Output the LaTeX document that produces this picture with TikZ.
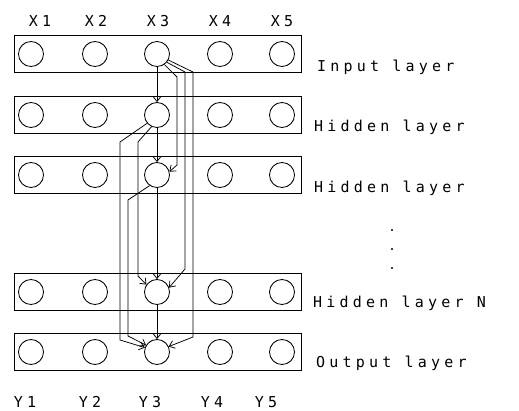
\documentclass[tikz,border=0pt]{standalone}
\usepackage{fontspec}
\newfontfamily\plotfont[LetterSpace=28]{DejaVu Sans Mono}
\usetikzlibrary{arrows.meta}
\begin{document}
\begin{tikzpicture}[x=1pt,y=-1pt,
  lyr/.style={draw,line width=0.85pt,minimum width=287pt,minimum height=37pt,inner sep=0pt},
  unit/.style={draw,circle,line width=0.85pt,minimum size=25pt,inner sep=0pt},
  lbl/.style={font=\plotfont\fontsize{15}{15}\selectfont,inner sep=0pt},
  wire/.style={line width=0.75pt,-{Straight Barb[length=5pt,width=8pt]}},
  dotmark/.style={circle,fill,inner sep=0pt,minimum size=2.2pt}]
\useasboundingbox (0,0) rectangle (519,411);
\foreach \r/\y in {1/54,2/115,3/175,4/292,5/352}{
  \node[lyr] (L\r) at (157.5,\y) {};
  \foreach \c/\x in {1/31,2/95,3/157,4/220,5/282}
    \node[unit] (c\r\c) at (\x,\y) {};
}
% top and bottom labels
\foreach \i/\x in {1/40,2/96,3/158,4/220,5/282}
  \node[lbl] (x\i) at (\x,21) {X\i};
\foreach \i/\x in {1/25,2/90,3/150,4/212,5/266}
  \node[lbl] (y\i) at (\x,402) {Y\i};
% layer labels
\node[lbl,anchor=west] (n1) at (317,67) {Input layer};
\node[lbl,anchor=west] (n2) at (314,127) {Hidden layer};
\node[lbl,anchor=west] (n3) at (314,188) {Hidden layer};
\node[lbl,anchor=west] (n4) at (313,303) {Hidden layer N};
\node[lbl,anchor=west] (n5) at (316,363) {Output layer};
\node[dotmark] (d1) at (392,230) {};
\node[dotmark] (d2) at (392,249) {};
\node[dotmark] (d3) at (392,268) {};
% direct connections
\draw[wire] (c13) -- (c23);
\draw[wire] (c23) -- (c33);
\draw[wire] (c33) -- (c43);
\draw[wire] (c43) -- (c53);
% skip connections from input X3
\draw[wire] (c13.-55) -- (177,77) -- (177,165) -- (c33.15);
\draw[wire] (c13.-40) -- (185,72) -- (185,269) -- (c43.20);
\draw[wire] (c13.-28) -- (193,72) -- (193,337) -- (c53.25);
% skip connections from hidden layer 1
\draw[wire] (c23.-140) -- (120,142) -- (120,340) -- (c53.160);
\draw[wire] (c23.-115) -- (138,142) -- (138,276) -- (c43.145);
% skip connection from hidden layer 2
\draw[wire] (c33.-125) -- (128,200) -- (128,336) -- (c53.148);
\end{tikzpicture}
\end{document}
